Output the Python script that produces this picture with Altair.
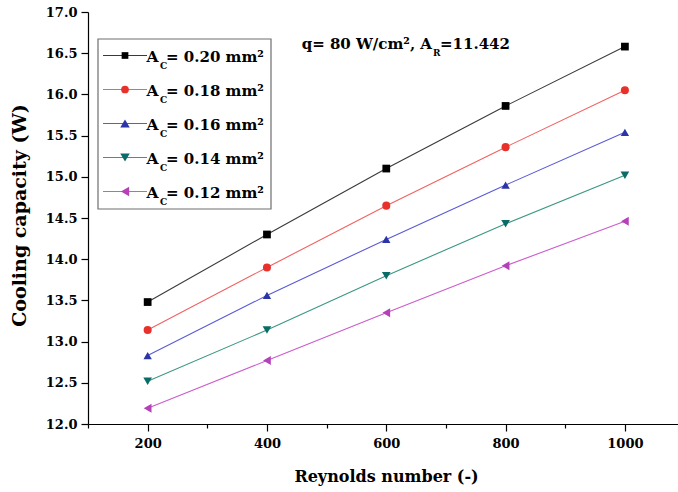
import altair as alt
import pandas as pd

# ---- data ----
reynolds = [200, 400, 600, 800, 1000]
series_labels = ["0.20", "0.18", "0.16", "0.14", "0.12"]
cap_020 = [13.48, 14.30, 15.10, 15.86, 16.58]
cap_018 = [13.14, 13.90, 14.65, 15.36, 16.05]
cap_016 = [12.83, 13.56, 14.24, 14.90, 15.54]
cap_014 = [12.52, 13.14, 13.80, 14.43, 15.02]
cap_012 = [12.19, 12.77, 13.35, 13.92, 14.46]
all_caps = [cap_020, cap_018, cap_016, cap_014, cap_012]

x_tick_values = [100, 200, 300, 400, 500, 600, 700, 800, 900, 1000]
y_tick_values = [12.0, 12.25, 12.5, 12.75, 13.0, 13.25, 13.5, 13.75, 14.0, 14.25,
                 14.5, 14.75, 15.0, 15.25, 15.5, 15.75, 16.0, 16.25, 16.5, 16.75, 17.0]

# ---- styles ----
marker_colors = ["#000000", "#e8312a", "#2b35a6", "#0b6b68", "#b540b8"]
line_colors = ["#3a3a3a", "#f06262", "#5a5ad6", "#3a9782", "#cc5ccc"]
shapes = ["square", "circle", "triangle-up", "triangle-down", "triangle-left"]
sizes = [60, 80, 120, 120, 120]

FONT = "DejaVu Serif"

rows = []
for lab, caps in zip(series_labels, all_caps):
    for re_, c in zip(reynolds, caps):
        rows.append({"Re": re_, "cap": c, "series": lab})
df = pd.DataFrame(rows)

W, H = 590, 412

x_enc = alt.X("Re:Q", scale=alt.Scale(domain=[100, 1089], nice=False, zero=False),
              axis=alt.Axis(values=x_tick_values,
                            labelExpr="datum.value % 200 == 0 ? datum.value : ''",
                            tickSize={"condition": {"test": "datum.value % 200 == 0", "value": 7}, "value": 4},
                            title="Reynolds number (-)", titleFontSize=16,
                            titleX=298, titleY=52, titleBaseline="middle",
                            labelPadding=6, labelOverlap=False, grid=False))
y_enc = alt.Y("cap:Q", scale=alt.Scale(domain=[12.0, 17.0], nice=False, zero=False),
              axis=alt.Axis(values=y_tick_values,
                            labelExpr="datum.value % 0.5 == 0 ? format(datum.value, '.1f') : ''",
                            tickSize={"condition": {"test": "datum.value % 0.5 == 0", "value": 7}, "value": 4},
                            title="Cooling capacity (W)", titleFontSize=19,
                            titleX=-69, titleY=203, titleBaseline="middle", titleAlign="center",
                            labelPadding=4, labelOverlap=False, grid=False))

lines = alt.Chart(df).mark_line(strokeWidth=1.1).encode(
    x=x_enc, y=y_enc,
    stroke=alt.Stroke("series:N", scale=alt.Scale(domain=series_labels, range=line_colors), legend=None),
    detail="series:N",
)
points = alt.Chart(df).mark_point(filled=True, opacity=1).encode(
    x="Re:Q", y="cap:Q",
    fill=alt.Fill("series:N", scale=alt.Scale(domain=series_labels, range=marker_colors), legend=None),
    shape=alt.Shape("series:N", scale=alt.Scale(domain=series_labels, range=shapes), legend=None),
    size=alt.Size("series:N", scale=alt.Scale(domain=series_labels, range=sizes), legend=None),
)

layers = [lines, points]

# ---- legend (drawn by hand to get the subscripts) ----
box = alt.Chart(pd.DataFrame({"k": [0]})).mark_rect(
    fill="white", stroke="#6e6e6e", strokeWidth=1.2
).encode(x=alt.value(10), x2=alt.value(183), y=alt.value(27), y2=alt.value(197))
layers.append(box)

row_y = [43.5, 77.5, 111.5, 145.5, 179.5]
for i, lab in enumerate(series_labels):
    ry = row_y[i]
    one = pd.DataFrame({"label": [lab]})
    layers.append(alt.Chart(one).mark_rule(color=line_colors[i], strokeWidth=1.1).encode(
        x=alt.value(15), x2=alt.value(59), y=alt.value(ry)))
    layers.append(alt.Chart(one).mark_point(filled=True, opacity=1, shape=shapes[i],
                                            size=sizes[i] * 0.75, color=marker_colors[i]).encode(
        x=alt.value(37), y=alt.value(ry)))
    layers.append(alt.Chart(one).mark_text(text="A", align="right", baseline="alphabetic",
                                           font=FONT, fontWeight="bold", fontSize=15.5, color="black").encode(
        x=alt.value(70.5), y=alt.value(ry + 6)))
    layers.append(alt.Chart(one).mark_text(text="C", align="left", baseline="alphabetic",
                                           font=FONT, fontWeight="bold", fontSize=9, color="black").encode(
        x=alt.value(72), y=alt.value(ry + 13)))
    layers.append(alt.Chart(one).mark_text(align="left", baseline="alphabetic",
                                           font=FONT, fontWeight="bold", fontSize=15, color="black").encode(
        x=alt.value(78), y=alt.value(ry + 6),
        text=alt.Text("label:N", format="")).transform_calculate(
        label="'= ' + datum.label + ' mm\u00b2'"))

# ---- annotation ----
ann = pd.DataFrame({"k": [0]})
AX, AY = 344, 37
layers.append(alt.Chart(ann).mark_text(text="q= 80 W/cm\u00b2, A", align="right", baseline="alphabetic",
                                       font=FONT, fontWeight="bold", fontSize=15, color="black").encode(
    x=alt.value(AX), y=alt.value(AY)))
layers.append(alt.Chart(ann).mark_text(text="R", align="left", baseline="alphabetic",
                                       font=FONT, fontWeight="bold", fontSize=9, color="black").encode(
    x=alt.value(AX + 1), y=alt.value(AY + 7)))
layers.append(alt.Chart(ann).mark_text(text="=11.442", align="left", baseline="alphabetic",
                                       font=FONT, fontWeight="bold", fontSize=15, color="black").encode(
    x=alt.value(AX + 8), y=alt.value(AY)))

chart = alt.layer(*layers).properties(
    width=W, height=H,
    autosize=alt.AutoSizeParams(type="none"),
    padding={"left": 88, "top": 12, "right": 0, "bottom": 67},
    background="white",
).configure_view(stroke=None).configure_axis(
    domainColor="black", domainWidth=1.2, tickColor="black", tickWidth=1.2,
    labelFont=FONT, labelFontWeight="bold", labelFontSize=13, labelColor="black",
    titleFont=FONT, titleFontWeight="bold", titleColor="black",
)

chart.save("out.html", embed_options={"renderer": "svg", "actions": False})
